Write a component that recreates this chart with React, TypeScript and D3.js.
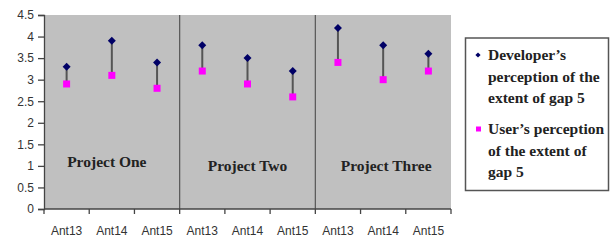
import * as React from 'react'
import * as d3 from 'd3'

const WIDTH = 611
const HEIGHT = 241
const PLOT_LEFT = 44
const PLOT_RIGHT = 451
const PLOT_TOP = 15
const PLOT_BOTTOM = 209

const projects = ['Project One', 'Project Two', 'Project Three']
const ants = ['Ant13', 'Ant14', 'Ant15']
const developerValues = [3.3, 3.9, 3.4, 3.8, 3.5, 3.2, 4.2, 3.8, 3.6]
const userValues = [2.9, 3.1, 2.8, 3.2, 2.9, 2.6, 3.4, 3.0, 3.2]
const projectLabelValues = [1.1, 1.0, 1.0]
const yTicks = [0, 0.5, 1, 1.5, 2, 2.5, 3, 3.5, 4, 4.5]
const legendLines = [
  ['Developer\u2019s', 'perception of the', 'extent of gap 5'],
  ['User\u2019s perception', 'of the extent of', 'gap 5']
]

const AXIS_COLOR = '#444'
const LABEL_COLOR = '#333'
const DEV_COLOR = '#000066'
const USER_COLOR = '#ff00ff'
const SERIF = '"Liberation Serif", "Times New Roman", serif'
const SANS = '"Liberation Sans", Arial, sans-serif'

// diamond = square turned 45deg, r is half the diagonal
function diamondPath(r: number) {
  return `M0,${-r}L${r},0L0,${r}L${-r},0Z`
}

export default function App() {
  const svgRef = React.useRef<SVGSVGElement>(null)

  // each category gets a unique key: project index + ant name
  const categories = projects.flatMap((p, pi) => ants.map(a => `${pi}|${a}`))

  React.useEffect(() => {
    const svg = d3.select(svgRef.current)
    svg.selectAll('*').remove()

    const x = d3
      .scaleBand<string>()
      .domain(categories)
      .range([PLOT_LEFT, PLOT_RIGHT])
    const y = d3.scaleLinear().domain([0, 4.5]).range([PLOT_BOTTOM, PLOT_TOP])
    const cx = (i: number) => (x(categories[i]) as number) + x.bandwidth() / 2

    svg
      .append('rect')
      .attr('x', PLOT_LEFT)
      .attr('y', PLOT_TOP)
      .attr('width', PLOT_RIGHT - PLOT_LEFT)
      .attr('height', PLOT_BOTTOM - PLOT_TOP)
      .attr('fill', '#c0c0c0')

    // project separators
    projects.slice(1).forEach((_, i) => {
      const sx = x(categories[(i + 1) * ants.length]) as number
      svg
        .append('line')
        .attr('x1', sx)
        .attr('x2', sx)
        .attr('y1', PLOT_TOP)
        .attr('y2', PLOT_BOTTOM)
        .attr('stroke', '#555')
        .attr('stroke-width', 1.2)
    })

    // project labels
    projects.forEach((p, pi) => {
      const mid = (cx(pi * 3) + cx(pi * 3 + 2)) / 2
      svg
        .append('text')
        .attr('x', pi === 0 ? mid - 5 : mid + (pi === 2 ? 3 : 0))
        .attr('y', y(projectLabelValues[pi]))
        .attr('dy', '0.35em')
        .attr('text-anchor', 'middle')
        .attr('font-family', SERIF)
        .attr('font-weight', 'bold')
        .attr('font-size', 15.5)
        .attr('fill', '#222')
        .text(p)
    })

    // y axis
    const yAxis = svg
      .append('g')
      .attr('transform', `translate(${PLOT_LEFT},0)`)
      .call(
        d3
          .axisLeft(y)
          .tickValues(yTicks)
          .tickSize(6)
          .tickPadding(4)
          .tickFormat(d => String(d))
      )
    yAxis.select('.domain').attr('stroke', AXIS_COLOR).attr('stroke-width', 1.3)
    yAxis.selectAll('.tick line').attr('stroke', AXIS_COLOR).attr('stroke-width', 1.3)
    yAxis
      .selectAll('.tick text')
      .attr('fill', LABEL_COLOR)
      .attr('font-family', SANS)
      .attr('font-size', 12)

    // x axis: ticks at category boundaries, labels under each category
    const boundaries = categories.map(c => x(c) as number).concat([PLOT_RIGHT])
    const xAxis = svg.append('g')
    xAxis
      .append('line')
      .attr('x1', PLOT_LEFT)
      .attr('x2', PLOT_RIGHT)
      .attr('y1', PLOT_BOTTOM)
      .attr('y2', PLOT_BOTTOM)
      .attr('stroke', AXIS_COLOR)
      .attr('stroke-width', 1.3)
    xAxis
      .selectAll('line.tick')
      .data(boundaries)
      .join('line')
      .attr('class', 'tick')
      .attr('x1', d => d)
      .attr('x2', d => d)
      .attr('y1', PLOT_BOTTOM)
      .attr('y2', PLOT_BOTTOM + 5)
      .attr('stroke', AXIS_COLOR)
      .attr('stroke-width', 1.3)
    xAxis
      .selectAll('text')
      .data(categories)
      .join('text')
      .attr('x', (d, i) => cx(i))
      .attr('y', 235)
      .attr('text-anchor', 'middle')
      .attr('fill', LABEL_COLOR)
      .attr('font-family', SANS)
      .attr('font-size', 12)
      .text(d => d.split('|')[1])

    // gap lines
    svg
      .append('g')
      .selectAll('line')
      .data(categories)
      .join('line')
      .attr('x1', (d, i) => cx(i))
      .attr('x2', (d, i) => cx(i))
      .attr('y1', (d, i) => y(developerValues[i]))
      .attr('y2', (d, i) => y(userValues[i]))
      .attr('stroke', '#555')
      .attr('stroke-width', 2)

    svg
      .append('g')
      .selectAll('path')
      .data(developerValues)
      .join('path')
      .attr('d', diamondPath(4))
      .attr('transform', (d, i) => `translate(${cx(i)},${y(d)})`)
      .attr('fill', DEV_COLOR)

    svg
      .append('g')
      .selectAll('rect')
      .data(userValues)
      .join('rect')
      .attr('x', (d, i) => cx(i) - 3.5)
      .attr('y', d => y(d) - 3.5)
      .attr('width', 7)
      .attr('height', 7)
      .attr('fill', USER_COLOR)

    // legend
    const legend = svg.append('g')
    legend
      .append('rect')
      .attr('x', 465.5)
      .attr('y', 38)
      .attr('width', 143)
      .attr('height', 152.5)
      .attr('fill', 'white')
      .attr('stroke', '#555')
      .attr('stroke-width', 1.5)
    legendLines.forEach((lines, si) => {
      const baseY = 55 + si * 74
      if (si === 0) {
        legend
          .append('path')
          .attr('d', diamondPath(2.6))
          .attr('transform', `translate(478,${baseY})`)
          .attr('fill', DEV_COLOR)
      } else {
        legend
          .append('rect')
          .attr('x', 476)
          .attr('y', baseY - 2.5)
          .attr('width', 5)
          .attr('height', 5)
          .attr('fill', USER_COLOR)
      }
      lines.forEach((t, li) => {
        legend
          .append('text')
          .attr('x', 488)
          .attr('y', baseY + li * 21.5)
          .attr('dy', '0.35em')
          .attr('font-family', SERIF)
          .attr('font-weight', 'bold')
          .attr('font-size', 15.5)
          .attr('fill', '#222')
          .text(t)
      })
    })
  }, [])

  return (
    <svg
      ref={svgRef}
      width={WIDTH}
      height={HEIGHT}
      style={{ position: 'absolute', left: 0, top: 0, background: 'white' }}
    />
  )
}
